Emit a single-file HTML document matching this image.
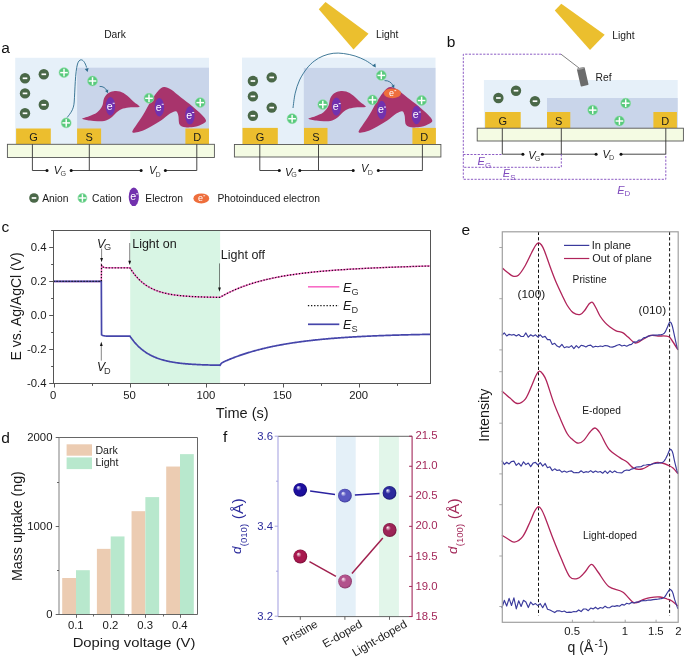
<!DOCTYPE html>
<html><head><meta charset="utf-8"><style>
html,body{margin:0;padding:0;background:#fff;}
svg{display:block;will-change:transform;}
text{font-family:"Liberation Sans",sans-serif;}
</style></head><body>
<svg width="685" height="658" viewBox="0 0 685 658" font-family="'Liberation Sans', sans-serif">
<rect width="685" height="658" fill="#fff"/>
<rect x="15.2" y="57.8" width="193.8" height="86.6" fill="#e6f0f9"/>
<rect x="77.1" y="67.7" width="131.9" height="76.7" fill="#c9d5ea"/>
<rect x="242" y="57.6" width="193.5" height="86.9" fill="#e6f0f9"/>
<rect x="303.8" y="67.9" width="131.7" height="76.6" fill="#c9d5ea"/>
<rect x="483.9" y="80" width="193.8" height="48.2" fill="#e6f0f9"/>
<rect x="547" y="98" width="130.7" height="30.2" fill="#c9d5ea"/>
<rect x="16.1" y="128.5" width="34.7" height="15.8" fill="#ecbe2e"/>
<text x="33.6" y="140.8" font-size="11" fill="#1a1a1a" text-anchor="middle" >G</text>
<rect x="77.1" y="128.5" width="24" height="15.8" fill="#ecbe2e"/>
<text x="89.2" y="140.8" font-size="11" fill="#1a1a1a" text-anchor="middle" >S</text>
<rect x="185.4" y="128.5" width="23.6" height="15.8" fill="#ecbe2e"/>
<text x="197.2" y="140.8" font-size="11" fill="#1a1a1a" text-anchor="middle" >D</text>
<rect x="242.5" y="127.9" width="35.3" height="16.6" fill="#ecbe2e"/>
<text x="260.1" y="140.8" font-size="11" fill="#1a1a1a" text-anchor="middle" >G</text>
<rect x="304" y="127.9" width="23.5" height="16.6" fill="#ecbe2e"/>
<text x="315.8" y="140.8" font-size="11" fill="#1a1a1a" text-anchor="middle" >S</text>
<rect x="412.4" y="127.9" width="23.5" height="16.6" fill="#ecbe2e"/>
<text x="424.2" y="140.8" font-size="11" fill="#1a1a1a" text-anchor="middle" >D</text>
<rect x="485.1" y="112" width="35.6" height="16.2" fill="#ecbe2e"/>
<text x="502.9" y="125" font-size="11" fill="#1a1a1a" text-anchor="middle" >G</text>
<rect x="547" y="112" width="23.3" height="16.2" fill="#ecbe2e"/>
<text x="558.7" y="125" font-size="11" fill="#1a1a1a" text-anchor="middle" >S</text>
<rect x="653.4" y="112" width="23.5" height="16.2" fill="#ecbe2e"/>
<text x="665.2" y="125" font-size="11" fill="#1a1a1a" text-anchor="middle" >D</text>
<rect x="7.4" y="144.3" width="207" height="13.2" fill="#f4fbe3" stroke="#555" stroke-width="0.9"/>
<rect x="234.4" y="144.5" width="206.5" height="12.5" fill="#f4fbe3" stroke="#555" stroke-width="0.9"/>
<rect x="477.2" y="128.2" width="206.2" height="12.8" fill="#f4fbe3" stroke="#555" stroke-width="0.9"/>
<path d="M32.4,144.3 V170.5 H47 M89.3,144.3 V170.5 M71.2,170.5 H141.1 M196.8,144.3 V170.5 H165.4" stroke="#333333" stroke-width="0.9" fill="none"/>
<circle cx="47" cy="170.5" r="1.5" fill="#111"/>
<circle cx="71.2" cy="170.5" r="1.5" fill="#111"/>
<circle cx="141.1" cy="170.5" r="1.5" fill="#111"/>
<circle cx="165.4" cy="170.5" r="1.5" fill="#111"/>
<text x="53.8" y="174" font-size="11" fill="#1a1a1a" font-style="italic">V</text>
<text x="60.4" y="175.8" font-size="7.2" fill="#444">G</text>
<text x="149.1" y="174.3" font-size="11" fill="#1a1a1a" font-style="italic">V</text>
<text x="155.5" y="176.6" font-size="7.2" fill="#444">D</text>
<path d="M259.8,144.5 V170.5 H279.3 M318.5,144.5 V170.5 M299.8,170.5 H353.2 M422.4,144.5 V170.5 H378.3" stroke="#333333" stroke-width="0.9" fill="none"/>
<circle cx="279.3" cy="170.5" r="1.5" fill="#111"/>
<circle cx="299.8" cy="170.5" r="1.5" fill="#111"/>
<circle cx="353.2" cy="170.5" r="1.5" fill="#111"/>
<circle cx="378.3" cy="170.5" r="1.5" fill="#111"/>
<text x="285" y="175.5" font-size="11" fill="#1a1a1a" font-style="italic">V</text>
<text x="291.2" y="177.4" font-size="7.2" fill="#444">G</text>
<text x="361.1" y="172.3" font-size="11" fill="#1a1a1a" font-style="italic">V</text>
<text x="367.7" y="174.6" font-size="7.2" fill="#444">D</text>
<path d="M502.3,128.2 V154.2 H522.9 M561.3,128.2 V154.2 M542.4,154.2 H596.1 M665.8,128.2 V154.2 H621" stroke="#333333" stroke-width="0.9" fill="none"/>
<circle cx="522.9" cy="154.2" r="1.5" fill="#111"/>
<circle cx="542.4" cy="154.2" r="1.5" fill="#111"/>
<circle cx="596.1" cy="154.2" r="1.5" fill="#111"/>
<circle cx="621" cy="154.2" r="1.5" fill="#111"/>
<text x="528.2" y="158.6" font-size="11" fill="#1a1a1a" font-style="italic">V</text>
<text x="534.8" y="160.6" font-size="7.2" fill="#444">G</text>
<text x="602.6" y="157.7" font-size="11" fill="#1a1a1a" font-style="italic">V</text>
<text x="608.9" y="160.1" font-size="7.2" fill="#444">D</text>
<path d="M82.2,118.8 C82.37,119.53 87.37,120.18 90,120.6 C92.63,121.02 95.33,121.33 98,121.3 C100.67,121.27 103.67,121.12 106,120.4 C108.33,119.68 110.17,118.4 112,117 C113.83,115.6 115.17,113.4 117,112 C118.83,110.6 120.67,109.4 123,108.6 C125.33,107.8 128.23,107.5 131,107.2 C133.77,106.9 139.1,107.67 139.6,106.8 C140.1,105.93 136.1,103.88 134,102 C131.9,100.12 129.33,97.23 127,95.5 C124.67,93.77 122.25,92.32 120,91.6 C117.75,90.88 115.55,90.87 113.5,91.2 C111.45,91.53 109.28,92.38 107.7,93.6 C106.12,94.82 104.92,96.43 104,98.5 C103.08,100.57 103.37,103.67 102.2,106 C101.03,108.33 99.2,110.8 97,112.5 C94.8,114.2 91.47,115.15 89,116.2 C86.53,117.25 82.03,118.07 82.2,118.8Z" fill="#a8346c"/>
<path d="M164,87 C161.92,87.17 160.67,88.17 158.5,90.5 C156.33,92.83 153.58,96.92 151,101 C148.42,105.08 145.5,110.92 143,115 C140.5,119.08 137.77,122.63 136,125.5 C134.23,128.37 131.73,131.18 132.4,132.2 C133.07,133.22 136.9,132.55 140,131.6 C143.1,130.65 147.5,128.35 151,126.5 C154.5,124.65 157.83,122.67 161,120.5 C164.17,118.33 167.5,115.05 170,113.5 C172.5,111.95 174.62,110.87 176,111.2 C177.38,111.53 177.7,113.28 178.3,115.5 C178.9,117.72 178.42,122.53 179.6,124.5 C180.78,126.47 182.83,126.92 185.4,127.3 C187.97,127.68 192.07,127.38 195,126.8 C197.93,126.22 201.17,124.85 203,123.8 C204.83,122.75 206.25,122.05 206,120.5 C205.75,118.95 203.83,116.92 201.5,114.5 C199.17,112.08 195.42,108.83 192,106 C188.58,103.17 184.5,100.25 181,97.5 C177.5,94.75 173.83,91.25 171,89.5 C168.17,87.75 166.08,86.83 164,87Z" fill="#a8346c"/>
<path d="M308.4,118.8 C308.57,119.53 313.57,120.18 316.2,120.6 C318.83,121.02 321.53,121.33 324.2,121.3 C326.87,121.27 329.87,121.12 332.2,120.4 C334.53,119.68 336.37,118.4 338.2,117 C340.03,115.6 341.37,113.4 343.2,112 C345.03,110.6 346.87,109.4 349.2,108.6 C351.53,107.8 354.43,107.5 357.2,107.2 C359.97,106.9 365.3,107.67 365.8,106.8 C366.3,105.93 362.3,103.88 360.2,102 C358.1,100.12 355.53,97.23 353.2,95.5 C350.87,93.77 348.45,92.32 346.2,91.6 C343.95,90.88 341.75,90.87 339.7,91.2 C337.65,91.53 335.48,92.38 333.9,93.6 C332.32,94.82 331.12,96.43 330.2,98.5 C329.28,100.57 329.57,103.67 328.4,106 C327.23,108.33 325.4,110.8 323.2,112.5 C321,114.2 317.67,115.15 315.2,116.2 C312.73,117.25 308.23,118.07 308.4,118.8Z" fill="#a8346c"/>
<path d="M390.3,87 C388.22,87.17 386.97,88.17 384.8,90.5 C382.63,92.83 379.88,96.92 377.3,101 C374.72,105.08 371.8,110.92 369.3,115 C366.8,119.08 364.07,122.63 362.3,125.5 C360.53,128.37 358.03,131.18 358.7,132.2 C359.37,133.22 363.2,132.55 366.3,131.6 C369.4,130.65 373.8,128.35 377.3,126.5 C380.8,124.65 384.13,122.67 387.3,120.5 C390.47,118.33 393.8,115.05 396.3,113.5 C398.8,111.95 400.92,110.87 402.3,111.2 C403.68,111.53 404,113.28 404.6,115.5 C405.2,117.72 404.72,122.53 405.9,124.5 C407.08,126.47 409.13,126.92 411.7,127.3 C414.27,127.68 418.37,127.38 421.3,126.8 C424.23,126.22 427.47,124.85 429.3,123.8 C431.13,122.75 432.55,122.05 432.3,120.5 C432.05,118.95 430.13,116.92 427.8,114.5 C425.47,112.08 421.72,108.83 418.3,106 C414.88,103.17 410.8,100.25 407.3,97.5 C403.8,94.75 400.13,91.25 397.3,89.5 C394.47,87.75 392.38,86.83 390.3,87Z" fill="#a8346c"/>
<circle cx="25" cy="78.3" r="5.2" fill="#4a6848"/>
<rect x="22.7" y="77.45" width="4.6" height="1.7" fill="#fff"/>
<circle cx="43.8" cy="74.3" r="5.2" fill="#4a6848"/>
<rect x="41.5" y="73.45" width="4.6" height="1.7" fill="#fff"/>
<circle cx="25" cy="93.4" r="5.2" fill="#4a6848"/>
<rect x="22.7" y="92.55" width="4.6" height="1.7" fill="#fff"/>
<circle cx="43.8" cy="104.8" r="5.2" fill="#4a6848"/>
<rect x="41.5" y="103.95" width="4.6" height="1.7" fill="#fff"/>
<circle cx="25" cy="113.3" r="5.2" fill="#4a6848"/>
<rect x="22.7" y="112.45" width="4.6" height="1.7" fill="#fff"/>
<circle cx="64" cy="72.6" r="4.95" fill="#58c97c" stroke="#8fdfa8" stroke-width="0.6"/>
<rect x="60.2" y="71.88" width="7.6" height="1.45" fill="#fff"/>
<rect x="63.28" y="68.8" width="1.45" height="7.6" fill="#fff"/>
<circle cx="92.5" cy="81" r="4.95" fill="#58c97c" stroke="#8fdfa8" stroke-width="0.6"/>
<rect x="88.7" y="80.28" width="7.6" height="1.45" fill="#fff"/>
<rect x="91.78" y="77.2" width="1.45" height="7.6" fill="#fff"/>
<circle cx="66.2" cy="122.9" r="4.95" fill="#58c97c" stroke="#8fdfa8" stroke-width="0.6"/>
<rect x="62.4" y="122.18" width="7.6" height="1.45" fill="#fff"/>
<rect x="65.48" y="119.1" width="1.45" height="7.6" fill="#fff"/>
<circle cx="149" cy="98.3" r="4.95" fill="#58c97c" stroke="#8fdfa8" stroke-width="0.6"/>
<rect x="145.2" y="97.58" width="7.6" height="1.45" fill="#fff"/>
<rect x="148.28" y="94.5" width="1.45" height="7.6" fill="#fff"/>
<circle cx="200.2" cy="102.6" r="4.95" fill="#58c97c" stroke="#8fdfa8" stroke-width="0.6"/>
<rect x="196.4" y="101.88" width="7.6" height="1.45" fill="#fff"/>
<rect x="199.48" y="98.8" width="1.45" height="7.6" fill="#fff"/>
<ellipse cx="110.4" cy="106.2" rx="4.7" ry="9.2" fill="#7231ae"/>
<text x="109.7" y="109.6" font-size="10.6" fill="#fff" text-anchor="middle">e</text>
<rect x="112.7" y="102.8" width="2" height="0.9" fill="#fff"/>
<ellipse cx="159.4" cy="107.2" rx="4.7" ry="9.2" fill="#7231ae"/>
<text x="158.7" y="110.6" font-size="10.6" fill="#fff" text-anchor="middle">e</text>
<rect x="161.7" y="103.8" width="2" height="0.9" fill="#fff"/>
<ellipse cx="189.9" cy="115.4" rx="4.7" ry="9.2" fill="#7231ae"/>
<text x="189.2" y="118.8" font-size="10.6" fill="#fff" text-anchor="middle">e</text>
<rect x="192.2" y="112" width="2" height="0.9" fill="#fff"/>
<circle cx="252.9" cy="81" r="5.2" fill="#4a6848"/>
<rect x="250.6" y="80.15" width="4.6" height="1.7" fill="#fff"/>
<circle cx="271.7" cy="77.4" r="5.2" fill="#4a6848"/>
<rect x="269.4" y="76.55" width="4.6" height="1.7" fill="#fff"/>
<circle cx="252.9" cy="96.4" r="5.2" fill="#4a6848"/>
<rect x="250.6" y="95.55" width="4.6" height="1.7" fill="#fff"/>
<circle cx="271.7" cy="107.6" r="5.2" fill="#4a6848"/>
<rect x="269.4" y="106.75" width="4.6" height="1.7" fill="#fff"/>
<circle cx="252.9" cy="115.8" r="5.2" fill="#4a6848"/>
<rect x="250.6" y="114.95" width="4.6" height="1.7" fill="#fff"/>
<circle cx="292.1" cy="118.7" r="4.95" fill="#58c97c" stroke="#8fdfa8" stroke-width="0.6"/>
<rect x="288.3" y="117.98" width="7.6" height="1.45" fill="#fff"/>
<rect x="291.38" y="114.9" width="1.45" height="7.6" fill="#fff"/>
<circle cx="322.8" cy="104.6" r="4.95" fill="#58c97c" stroke="#8fdfa8" stroke-width="0.6"/>
<rect x="319" y="103.88" width="7.6" height="1.45" fill="#fff"/>
<rect x="322.08" y="100.8" width="1.45" height="7.6" fill="#fff"/>
<circle cx="372.5" cy="99.9" r="4.95" fill="#58c97c" stroke="#8fdfa8" stroke-width="0.6"/>
<rect x="368.7" y="99.18" width="7.6" height="1.45" fill="#fff"/>
<rect x="371.78" y="96.1" width="1.45" height="7.6" fill="#fff"/>
<circle cx="381.3" cy="75.4" r="4.95" fill="#58c97c" stroke="#8fdfa8" stroke-width="0.6"/>
<rect x="377.5" y="74.68" width="7.6" height="1.45" fill="#fff"/>
<rect x="380.58" y="71.6" width="1.45" height="7.6" fill="#fff"/>
<circle cx="421.6" cy="100.5" r="4.95" fill="#58c97c" stroke="#8fdfa8" stroke-width="0.6"/>
<rect x="417.8" y="99.78" width="7.6" height="1.45" fill="#fff"/>
<rect x="420.88" y="96.7" width="1.45" height="7.6" fill="#fff"/>
<ellipse cx="336.4" cy="106.6" rx="4.7" ry="9.2" fill="#7231ae"/>
<text x="335.7" y="110" font-size="10.6" fill="#fff" text-anchor="middle">e</text>
<rect x="338.7" y="103.2" width="2" height="0.9" fill="#fff"/>
<ellipse cx="381.7" cy="110" rx="4.7" ry="9.2" fill="#7231ae"/>
<text x="381" y="113.4" font-size="10.6" fill="#fff" text-anchor="middle">e</text>
<rect x="384" y="106.6" width="2" height="0.9" fill="#fff"/>
<ellipse cx="416.5" cy="115" rx="4.7" ry="9.2" fill="#7231ae"/>
<text x="415.8" y="118.4" font-size="10.6" fill="#fff" text-anchor="middle">e</text>
<rect x="418.8" y="111.6" width="2" height="0.9" fill="#fff"/>
<ellipse cx="392.4" cy="93.3" rx="8.6" ry="4.9" fill="#ee6e3c"/>
<text x="391.6" y="96.1" font-size="9" fill="#fff" text-anchor="middle">e</text>
<rect x="394.4" y="90.3" width="1.8" height="0.8" fill="#fff"/>
<circle cx="498.4" cy="98" r="5.2" fill="#4a6848"/>
<rect x="496.1" y="97.15" width="4.6" height="1.7" fill="#fff"/>
<circle cx="516" cy="90.7" r="5.2" fill="#4a6848"/>
<rect x="513.7" y="89.85" width="4.6" height="1.7" fill="#fff"/>
<circle cx="535" cy="101.2" r="5.2" fill="#4a6848"/>
<rect x="532.7" y="100.35" width="4.6" height="1.7" fill="#fff"/>
<circle cx="592.7" cy="110.1" r="4.95" fill="#58c97c" stroke="#8fdfa8" stroke-width="0.6"/>
<rect x="588.9" y="109.38" width="7.6" height="1.45" fill="#fff"/>
<rect x="591.98" y="106.3" width="1.45" height="7.6" fill="#fff"/>
<circle cx="625.7" cy="103.2" r="4.95" fill="#58c97c" stroke="#8fdfa8" stroke-width="0.6"/>
<rect x="621.9" y="102.48" width="7.6" height="1.45" fill="#fff"/>
<rect x="624.98" y="99.4" width="1.45" height="7.6" fill="#fff"/>
<circle cx="619.4" cy="121" r="4.95" fill="#58c97c" stroke="#8fdfa8" stroke-width="0.6"/>
<rect x="615.6" y="120.28" width="7.6" height="1.45" fill="#fff"/>
<rect x="618.68" y="117.2" width="1.45" height="7.6" fill="#fff"/>
<path d="M67.2,117.5 C70.5,113 73.6,110 74.2,102 C75,90 75.2,72 77.5,64 C79.5,57.5 84,58.5 86.6,67.5" stroke="#2c6b8c" stroke-width="0.9" fill="none"/>
<path d="M87.6,72 L84.76,69.04 L88.58,68.01 Z" fill="#2c6b8c"/>
<path d="M99.6,86.4 C103,86.2 105.5,88 107,90.8" stroke="#2c6b8c" stroke-width="0.9" fill="none"/>
<path d="M108,93.2 L105.05,91.04 L108.24,89.56 Z" fill="#2c6b8c"/>
<path d="M293,108 C293.37,105.53 294.1,97.87 295.2,93.2 C296.3,88.53 297.65,84.13 299.6,80 C301.55,75.87 304.47,71.55 306.9,68.4 C309.33,65.25 311.52,63.17 314.2,61.1 C316.88,59.03 319.83,57.3 323,56 C326.17,54.7 329.8,53.72 333.2,53.3 C336.6,52.88 339.75,53.05 343.4,53.5 C347.05,53.95 351.45,54.87 355.1,56 C358.75,57.13 362.35,58.77 365.3,60.3 C368.25,61.83 371.55,64.38 372.8,65.2" stroke="#2c6b8c" stroke-width="0.9" fill="none"/>
<path d="M375.8,67.6 L372.11,65.79 L375.36,63.52 Z" fill="#2c6b8c"/>
<path d="M384.6,80.6 C388.5,80.4 391.5,82.5 393,85.5" stroke="#2c6b8c" stroke-width="0.9" fill="none"/>
<path d="M394.2,88.2 L391.25,86.04 L394.44,84.56 Z" fill="#2c6b8c"/>
<path d="M325.5,2 L318.8,9.2 L353.5,49.5 L368.5,33.7 Z" fill="#ebbf2e"/>
<path d="M561.3,3.7 L554.8,10.6 L590,50.1 L604.7,34.7 Z" fill="#ebbf2e"/>
<path d="M561,54.2 H463.3 V179.3 H665.8 V154.2" stroke="#7f4abd" stroke-width="0.9" stroke-dasharray="2.2,1.4" fill="none"/>
<path d="M463.3,154.5 H502.3" stroke="#7f4abd" stroke-width="0.9" stroke-dasharray="2.2,1.4" fill="none"/>
<path d="M561.3,154.2 V167.3 H463.3" stroke="#7f4abd" stroke-width="0.9" stroke-dasharray="2.2,1.4" fill="none"/>
<path d="M561,54.2 L579,68" stroke="#555" stroke-width="0.75"/>
<g transform="translate(582.7,76.9) rotate(-13)"><rect x="-4" y="-9" width="8" height="18" rx="0.8" fill="#6b6b6b"/><ellipse cx="0" cy="-8.6" rx="4" ry="1.1" fill="#9c9c9c"/></g>
<text x="477.6" y="165.2" font-size="11" fill="#7f4abd" font-style="italic">E<tspan font-size="7.92" font-style="normal" dy="2.4">G</tspan></text>
<text x="502.8" y="177.3" font-size="11" fill="#7f4abd" font-style="italic">E<tspan font-size="7.92" font-style="normal" dy="2.4">S</tspan></text>
<text x="617.2" y="193.5" font-size="11" fill="#7f4abd" font-style="italic">E<tspan font-size="7.92" font-style="normal" dy="2.4">D</tspan></text>
<text x="1.2" y="53.2" font-size="15.5" fill="#111" text-anchor="start" >a</text>
<text x="446.8" y="47" font-size="15.5" fill="#111" text-anchor="start" >b</text>
<text x="104.2" y="38" font-size="10.3" fill="#1a1a1a" text-anchor="start" >Dark</text>
<text x="376" y="37.6" font-size="10.3" fill="#1a1a1a" text-anchor="start" >Light</text>
<text x="612.3" y="39.4" font-size="10.3" fill="#1a1a1a" text-anchor="start" >Light</text>
<text x="595.6" y="80.6" font-size="10.3" fill="#1a1a1a" text-anchor="start" >Ref</text>
<circle cx="34" cy="198" r="4.8" fill="#4a6848"/>
<rect x="31.7" y="197.15" width="4.6" height="1.7" fill="#fff"/>
<text x="42.2" y="202.3" font-size="10.3" fill="#1a1a1a" text-anchor="start" >Anion</text>
<circle cx="82.4" cy="198" r="4.5" fill="#58c97c" stroke="#8fdfa8" stroke-width="0.6"/>
<rect x="78.6" y="197.28" width="7.6" height="1.45" fill="#fff"/>
<rect x="81.68" y="194.2" width="1.45" height="7.6" fill="#fff"/>
<text x="92" y="202.3" font-size="10.3" fill="#1a1a1a" text-anchor="start" >Cation</text>
<ellipse cx="133.8" cy="196.8" rx="5.1" ry="9.3" fill="#7231ae"/>
<text x="133.1" y="200.2" font-size="10.6" fill="#fff" text-anchor="middle">e</text>
<rect x="136.1" y="193.4" width="2" height="0.9" fill="#fff"/>
<text x="145.3" y="202.3" font-size="10.3" fill="#1a1a1a" text-anchor="start" >Electron</text>
<ellipse cx="201.3" cy="198.4" rx="7.9" ry="5" fill="#ee6e3c"/>
<text x="200.5" y="201.2" font-size="9" fill="#fff" text-anchor="middle">e</text>
<rect x="203.3" y="195.4" width="1.8" height="0.8" fill="#fff"/>
<text x="217.4" y="202.3" font-size="10.3" fill="#1a1a1a" text-anchor="start" >Photoinduced electron</text>
<rect x="130.21" y="230.5" width="89.92" height="153" fill="#d8f5e4"/>
<path d="M53.5,281.4 L54.26,281.4 L55.03,281.4 L55.79,281.4 L56.56,281.4 L57.32,281.4 L58.08,281.4 L58.85,281.4 L59.61,281.4 L60.38,281.4 L61.14,281.4 L61.9,281.4 L62.67,281.4 L63.43,281.4 L64.2,281.4 L64.96,281.4 L65.72,281.4 L66.49,281.4 L67.25,281.4 L68.02,281.4 L68.78,281.4 L69.54,281.4 L70.31,281.4 L71.07,281.4 L71.84,281.4 L72.6,281.4 L73.36,281.4 L74.13,281.4 L74.89,281.4 L75.66,281.4 L76.42,281.4 L77.18,281.4 L77.95,281.4 L78.71,281.4 L79.48,281.4 L80.24,281.4 L81,281.4 L81.77,281.4 L82.53,281.4 L83.3,281.4 L84.06,281.4 L84.82,281.4 L85.59,281.4 L86.35,281.4 L87.12,281.4 L87.88,281.4 L88.64,281.4 L89.41,281.4 L90.17,281.4 L90.94,281.4 L91.7,281.4 L92.46,281.4 L93.23,281.4 L93.99,281.4 L94.76,281.4 L95.52,281.4 L96.28,281.4 L97.05,281.4 L97.81,281.4 L98.58,281.4 L99.34,281.4 L100.1,281.4 L100.87,281.4 L101.33,281.4 L101.56,265.25 L102.4,266.44 L103.16,267.07 L103.92,267.41 L104.69,267.59 L105.45,267.69 L106.22,267.74 L106.98,267.77 L107.74,267.78 L108.51,267.79 L109.27,267.8 L110.04,267.8 L110.8,267.8 L111.56,267.8 L112.33,267.8 L113.09,267.8 L113.86,267.8 L114.62,267.8 L115.38,267.8 L116.15,267.8 L116.91,267.8 L117.68,267.8 L118.44,267.8 L119.2,267.8 L119.97,267.8 L120.73,267.8 L121.5,267.8 L122.26,267.8 L123.02,267.8 L123.79,267.8 L124.55,267.8 L125.32,267.8 L126.08,267.8 L126.84,267.8 L127.61,267.8 L128.37,267.8 L129.14,267.8 L129.9,267.8 L130.66,269.01 L131.43,270.18 L132.19,271.3 L132.96,272.37 L133.72,273.39 L134.48,274.38 L135.25,275.33 L136.01,276.23 L136.78,277.1 L137.54,277.94 L138.3,278.74 L139.07,279.51 L139.83,280.24 L140.6,280.95 L141.36,281.63 L142.12,282.28 L142.89,282.9 L143.65,283.5 L144.42,284.07 L145.18,284.62 L145.94,285.15 L146.71,285.65 L147.47,286.14 L148.24,286.61 L149,287.05 L149.76,287.48 L150.53,287.89 L151.29,288.29 L152.06,288.66 L152.82,289.03 L153.58,289.37 L154.35,289.71 L155.11,290.03 L155.88,290.33 L156.64,290.63 L157.4,290.91 L158.17,291.18 L158.93,291.44 L159.7,291.69 L160.46,291.93 L161.22,292.16 L161.99,292.38 L162.75,292.59 L163.52,292.79 L164.28,292.99 L165.04,293.17 L165.81,293.35 L166.57,293.52 L167.34,293.69 L168.1,293.85 L168.86,294 L169.63,294.14 L170.39,294.28 L171.16,294.41 L171.92,294.54 L172.68,294.67 L173.45,294.78 L174.21,294.9 L174.98,295 L175.74,295.11 L176.5,295.21 L177.27,295.3 L178.03,295.39 L178.8,295.48 L179.56,295.57 L180.32,295.65 L181.09,295.73 L181.85,295.8 L182.62,295.87 L183.38,295.94 L184.14,296.01 L184.91,296.07 L185.67,296.13 L186.44,296.19 L187.2,296.24 L187.96,296.3 L188.73,296.35 L189.49,296.4 L190.26,296.44 L191.02,296.49 L191.78,296.53 L192.55,296.57 L193.31,296.61 L194.08,296.65 L194.84,296.69 L195.6,296.72 L196.37,296.76 L197.13,296.79 L197.9,296.82 L198.66,296.85 L199.42,296.88 L200.19,296.91 L200.95,296.93 L201.72,296.96 L202.48,296.98 L203.24,297.01 L204.01,297.03 L204.77,297.05 L205.54,297.07 L206.3,297.09 L207.06,297.11 L207.83,297.13 L208.59,297.14 L209.36,297.16 L210.12,297.18 L210.88,297.19 L211.65,297.21 L212.41,297.22 L213.18,297.23 L213.94,297.25 L214.7,297.26 L215.47,297.27 L216.23,297.28 L217,297.29 L217.76,297.3 L218.52,297.31 L219.29,297.32 L220.05,297.29 L220.82,296.85 L221.58,296.42 L222.34,295.99 L223.11,295.56 L223.87,295.15 L224.64,294.73 L225.4,294.33 L226.16,293.93 L226.93,293.54 L227.69,293.15 L228.46,292.77 L229.22,292.4 L229.98,292.03 L230.75,291.66 L231.51,291.31 L232.28,290.95 L233.04,290.61 L233.8,290.26 L234.57,289.93 L235.33,289.59 L236.1,289.27 L236.86,288.95 L237.62,288.63 L238.39,288.32 L239.15,288.01 L239.92,287.7 L240.68,287.4 L241.44,287.11 L242.21,286.82 L242.97,286.53 L243.74,286.25 L244.5,285.98 L245.26,285.7 L246.03,285.43 L246.79,285.17 L247.56,284.91 L248.32,284.65 L249.08,284.39 L249.85,284.14 L250.61,283.9 L251.38,283.66 L252.14,283.42 L252.9,283.18 L253.67,282.95 L254.43,282.72 L255.2,282.49 L255.96,282.27 L256.72,282.05 L257.49,281.84 L258.25,281.62 L259.02,281.42 L259.78,281.21 L260.54,281.01 L261.31,280.8 L262.07,280.61 L262.84,280.41 L263.6,280.22 L264.36,280.03 L265.13,279.84 L265.89,279.66 L266.66,279.48 L267.42,279.3 L268.18,279.12 L268.95,278.95 L269.71,278.78 L270.48,278.61 L271.24,278.44 L272,278.28 L272.77,278.12 L273.53,277.96 L274.3,277.8 L275.06,277.65 L275.82,277.5 L276.59,277.34 L277.35,277.2 L278.12,277.05 L278.88,276.91 L279.64,276.76 L280.41,276.62 L281.17,276.48 L281.94,276.35 L282.7,276.21 L283.46,276.08 L284.23,275.95 L284.99,275.82 L285.76,275.69 L286.52,275.57 L287.28,275.44 L288.05,275.32 L288.81,275.2 L289.58,275.08 L290.34,274.96 L291.1,274.85 L291.87,274.73 L292.63,274.62 L293.4,274.51 L294.16,274.4 L294.92,274.29 L295.69,274.19 L296.45,274.08 L297.22,273.98 L297.98,273.87 L298.74,273.77 L299.51,273.67 L300.27,273.58 L301.04,273.48 L301.8,273.38 L302.56,273.29 L303.33,273.19 L304.09,273.1 L304.86,273.01 L305.62,272.92 L306.38,272.83 L307.15,272.74 L307.91,272.66 L308.68,272.57 L309.44,272.49 L310.2,272.4 L310.97,272.32 L311.73,272.24 L312.5,272.16 L313.26,272.08 L314.02,272 L314.79,271.93 L315.55,271.85 L316.32,271.77 L317.08,271.7 L317.84,271.63 L318.61,271.55 L319.37,271.48 L320.14,271.41 L320.9,271.34 L321.66,271.27 L322.43,271.2 L323.19,271.14 L323.96,271.07 L324.72,271 L325.48,270.94 L326.25,270.87 L327.01,270.81 L327.78,270.75 L328.54,270.69 L329.3,270.62 L330.07,270.56 L330.83,270.5 L331.6,270.44 L332.36,270.38 L333.12,270.33 L333.89,270.27 L334.65,270.21 L335.42,270.16 L336.18,270.1 L336.94,270.05 L337.71,269.99 L338.47,269.94 L339.24,269.88 L340,269.83 L340.76,269.78 L341.53,269.73 L342.29,269.68 L343.06,269.63 L343.82,269.58 L344.58,269.53 L345.35,269.48 L346.11,269.43 L346.88,269.38 L347.64,269.34 L348.4,269.29 L349.17,269.24 L349.93,269.2 L350.7,269.15 L351.46,269.11 L352.22,269.06 L352.99,269.02 L353.75,268.97 L354.52,268.93 L355.28,268.89 L356.04,268.85 L356.81,268.8 L357.57,268.76 L358.34,268.72 L359.1,268.68 L359.86,268.64 L360.63,268.6 L361.39,268.56 L362.16,268.52 L362.92,268.48 L363.68,268.44 L364.45,268.41 L365.21,268.37 L365.98,268.33 L366.74,268.29 L367.5,268.26 L368.27,268.22 L369.03,268.18 L369.8,268.15 L370.56,268.11 L371.32,268.08 L372.09,268.04 L372.85,268.01 L373.62,267.97 L374.38,267.94 L375.14,267.9 L375.91,267.87 L376.67,267.84 L377.44,267.8 L378.2,267.77 L378.96,267.74 L379.73,267.7 L380.49,267.67 L381.26,267.64 L382.02,267.61 L382.78,267.58 L383.55,267.55 L384.31,267.52 L385.08,267.48 L385.84,267.45 L386.6,267.42 L387.37,267.39 L388.13,267.36 L388.9,267.33 L389.66,267.3 L390.42,267.28 L391.19,267.25 L391.95,267.22 L392.72,267.19 L393.48,267.16 L394.24,267.13 L395.01,267.1 L395.77,267.08 L396.54,267.05 L397.3,267.02 L398.06,266.99 L398.83,266.97 L399.59,266.94 L400.36,266.91 L401.12,266.88 L401.88,266.86 L402.65,266.83 L403.41,266.81 L404.18,266.78 L404.94,266.75 L405.7,266.73 L406.47,266.7 L407.23,266.68 L408,266.65 L408.76,266.63 L409.52,266.6 L410.29,266.58 L411.05,266.55 L411.82,266.53 L412.58,266.5 L413.34,266.48 L414.11,266.45 L414.87,266.43 L415.64,266.4 L416.4,266.38 L417.16,266.36 L417.93,266.33 L418.69,266.31 L419.46,266.28 L420.22,266.26 L420.98,266.24 L421.75,266.21 L422.51,266.19 L423.28,266.17 L424.04,266.15 L424.8,266.12 L425.57,266.1 L426.33,266.08 L427.1,266.05 L427.86,266.03 L428.62,266.01 L429.39,265.99 L430.15,265.97" stroke="#f86cc6" stroke-width="1.5" fill="none"/>
<path d="M53.5,281.4 L54.26,281.4 L55.03,281.4 L55.79,281.4 L56.56,281.4 L57.32,281.4 L58.08,281.4 L58.85,281.4 L59.61,281.4 L60.38,281.4 L61.14,281.4 L61.9,281.4 L62.67,281.4 L63.43,281.4 L64.2,281.4 L64.96,281.4 L65.72,281.4 L66.49,281.4 L67.25,281.4 L68.02,281.4 L68.78,281.4 L69.54,281.4 L70.31,281.4 L71.07,281.4 L71.84,281.4 L72.6,281.4 L73.36,281.4 L74.13,281.4 L74.89,281.4 L75.66,281.4 L76.42,281.4 L77.18,281.4 L77.95,281.4 L78.71,281.4 L79.48,281.4 L80.24,281.4 L81,281.4 L81.77,281.4 L82.53,281.4 L83.3,281.4 L84.06,281.4 L84.82,281.4 L85.59,281.4 L86.35,281.4 L87.12,281.4 L87.88,281.4 L88.64,281.4 L89.41,281.4 L90.17,281.4 L90.94,281.4 L91.7,281.4 L92.46,281.4 L93.23,281.4 L93.99,281.4 L94.76,281.4 L95.52,281.4 L96.28,281.4 L97.05,281.4 L97.81,281.4 L98.58,281.4 L99.34,281.4 L100.1,281.4 L100.87,281.4 L101.33,281.4 L101.56,334.85 L102.4,335.29 L103.16,335.58 L103.92,335.77 L104.69,335.9 L105.45,335.98 L106.22,336.03 L106.98,336.07 L107.74,336.09 L108.51,336.11 L109.27,336.12 L110.04,336.13 L110.8,336.13 L111.56,336.13 L112.33,336.14 L113.09,336.14 L113.86,336.14 L114.62,336.14 L115.38,336.14 L116.15,336.14 L116.91,336.14 L117.68,336.14 L118.44,336.14 L119.2,336.14 L119.97,336.14 L120.73,336.14 L121.5,336.14 L122.26,336.14 L123.02,336.14 L123.79,336.14 L124.55,336.14 L125.32,336.14 L126.08,336.14 L126.84,336.14 L127.61,336.14 L128.37,336.14 L129.14,336.14 L129.9,336.14 L130.66,337.25 L131.43,338.32 L132.19,339.35 L132.96,340.33 L133.72,341.29 L134.48,342.2 L135.25,343.08 L136.01,343.93 L136.78,344.75 L137.54,345.53 L138.3,346.29 L139.07,347.01 L139.83,347.71 L140.6,348.38 L141.36,349.03 L142.12,349.66 L142.89,350.26 L143.65,350.83 L144.42,351.39 L145.18,351.92 L145.94,352.44 L146.71,352.93 L147.47,353.41 L148.24,353.87 L149,354.31 L149.76,354.73 L150.53,355.14 L151.29,355.53 L152.06,355.91 L152.82,356.27 L153.58,356.62 L154.35,356.96 L155.11,357.28 L155.88,357.6 L156.64,357.9 L157.4,358.19 L158.17,358.46 L158.93,358.73 L159.7,358.99 L160.46,359.24 L161.22,359.47 L161.99,359.7 L162.75,359.92 L163.52,360.14 L164.28,360.34 L165.04,360.54 L165.81,360.73 L166.57,360.91 L167.34,361.08 L168.1,361.25 L168.86,361.41 L169.63,361.57 L170.39,361.72 L171.16,361.86 L171.92,362 L172.68,362.14 L173.45,362.27 L174.21,362.39 L174.98,362.51 L175.74,362.62 L176.5,362.73 L177.27,362.84 L178.03,362.94 L178.8,363.04 L179.56,363.14 L180.32,363.23 L181.09,363.31 L181.85,363.4 L182.62,363.48 L183.38,363.56 L184.14,363.63 L184.91,363.71 L185.67,363.78 L186.44,363.84 L187.2,363.91 L187.96,363.97 L188.73,364.03 L189.49,364.09 L190.26,364.14 L191.02,364.19 L191.78,364.25 L192.55,364.29 L193.31,364.34 L194.08,364.39 L194.84,364.43 L195.6,364.47 L196.37,364.51 L197.13,364.55 L197.9,364.59 L198.66,364.63 L199.42,364.66 L200.19,364.7 L200.95,364.73 L201.72,364.76 L202.48,364.79 L203.24,364.82 L204.01,364.84 L204.77,364.87 L205.54,364.9 L206.3,364.92 L207.06,364.95 L207.83,364.97 L208.59,364.99 L209.36,365.01 L210.12,365.03 L210.88,365.05 L211.65,365.07 L212.41,365.09 L213.18,365.11 L213.94,365.12 L214.7,365.14 L215.47,365.15 L216.23,365.17 L217,365.18 L217.76,365.2 L218.52,365.21 L219.29,365.22 L220.05,365.38 L220.82,363.98 L221.58,363.17 L222.34,362.62 L223.11,362.19 L223.87,361.8 L224.64,361.45 L225.4,361.1 L226.16,360.77 L226.93,360.44 L227.69,360.11 L228.46,359.79 L229.22,359.47 L229.98,359.16 L230.75,358.85 L231.51,358.54 L232.28,358.24 L233.04,357.94 L233.8,357.64 L234.57,357.35 L235.33,357.06 L236.1,356.78 L236.86,356.5 L237.62,356.22 L238.39,355.94 L239.15,355.67 L239.92,355.4 L240.68,355.14 L241.44,354.88 L242.21,354.62 L242.97,354.36 L243.74,354.11 L244.5,353.86 L245.26,353.61 L246.03,353.37 L246.79,353.13 L247.56,352.89 L248.32,352.66 L249.08,352.42 L249.85,352.19 L250.61,351.97 L251.38,351.74 L252.14,351.52 L252.9,351.3 L253.67,351.09 L254.43,350.87 L255.2,350.66 L255.96,350.45 L256.72,350.25 L257.49,350.05 L258.25,349.84 L259.02,349.65 L259.78,349.45 L260.54,349.26 L261.31,349.06 L262.07,348.87 L262.84,348.69 L263.6,348.5 L264.36,348.32 L265.13,348.14 L265.89,347.96 L266.66,347.79 L267.42,347.61 L268.18,347.44 L268.95,347.27 L269.71,347.1 L270.48,346.94 L271.24,346.77 L272,346.61 L272.77,346.45 L273.53,346.29 L274.3,346.14 L275.06,345.98 L275.82,345.83 L276.59,345.68 L277.35,345.53 L278.12,345.38 L278.88,345.24 L279.64,345.09 L280.41,344.95 L281.17,344.81 L281.94,344.67 L282.7,344.54 L283.46,344.4 L284.23,344.27 L284.99,344.13 L285.76,344 L286.52,343.87 L287.28,343.75 L288.05,343.62 L288.81,343.5 L289.58,343.37 L290.34,343.25 L291.1,343.13 L291.87,343.01 L292.63,342.9 L293.4,342.78 L294.16,342.67 L294.92,342.55 L295.69,342.44 L296.45,342.33 L297.22,342.22 L297.98,342.12 L298.74,342.01 L299.51,341.91 L300.27,341.8 L301.04,341.7 L301.8,341.6 L302.56,341.5 L303.33,341.4 L304.09,341.3 L304.86,341.2 L305.62,341.11 L306.38,341.01 L307.15,340.92 L307.91,340.83 L308.68,340.74 L309.44,340.65 L310.2,340.56 L310.97,340.47 L311.73,340.38 L312.5,340.3 L313.26,340.21 L314.02,340.13 L314.79,340.05 L315.55,339.97 L316.32,339.89 L317.08,339.81 L317.84,339.73 L318.61,339.65 L319.37,339.57 L320.14,339.5 L320.9,339.42 L321.66,339.35 L322.43,339.27 L323.19,339.2 L323.96,339.13 L324.72,339.06 L325.48,338.99 L326.25,338.92 L327.01,338.85 L327.78,338.79 L328.54,338.72 L329.3,338.65 L330.07,338.59 L330.83,338.52 L331.6,338.46 L332.36,338.4 L333.12,338.34 L333.89,338.28 L334.65,338.21 L335.42,338.16 L336.18,338.1 L336.94,338.04 L337.71,337.98 L338.47,337.92 L339.24,337.87 L340,337.81 L340.76,337.76 L341.53,337.7 L342.29,337.65 L343.06,337.6 L343.82,337.54 L344.58,337.49 L345.35,337.44 L346.11,337.39 L346.88,337.34 L347.64,337.29 L348.4,337.24 L349.17,337.19 L349.93,337.15 L350.7,337.1 L351.46,337.05 L352.22,337.01 L352.99,336.96 L353.75,336.92 L354.52,336.87 L355.28,336.83 L356.04,336.79 L356.81,336.74 L357.57,336.7 L358.34,336.66 L359.1,336.62 L359.86,336.58 L360.63,336.54 L361.39,336.5 L362.16,336.46 L362.92,336.42 L363.68,336.38 L364.45,336.34 L365.21,336.31 L365.98,336.27 L366.74,336.23 L367.5,336.2 L368.27,336.16 L369.03,336.13 L369.8,336.09 L370.56,336.06 L371.32,336.02 L372.09,335.99 L372.85,335.96 L373.62,335.92 L374.38,335.89 L375.14,335.86 L375.91,335.83 L376.67,335.8 L377.44,335.77 L378.2,335.74 L378.96,335.71 L379.73,335.68 L380.49,335.65 L381.26,335.62 L382.02,335.59 L382.78,335.56 L383.55,335.53 L384.31,335.5 L385.08,335.48 L385.84,335.45 L386.6,335.42 L387.37,335.4 L388.13,335.37 L388.9,335.35 L389.66,335.32 L390.42,335.29 L391.19,335.27 L391.95,335.25 L392.72,335.22 L393.48,335.2 L394.24,335.17 L395.01,335.15 L395.77,335.13 L396.54,335.1 L397.3,335.08 L398.06,335.06 L398.83,335.04 L399.59,335.02 L400.36,334.99 L401.12,334.97 L401.88,334.95 L402.65,334.93 L403.41,334.91 L404.18,334.89 L404.94,334.87 L405.7,334.85 L406.47,334.83 L407.23,334.81 L408,334.79 L408.76,334.77 L409.52,334.76 L410.29,334.74 L411.05,334.72 L411.82,334.7 L412.58,334.68 L413.34,334.67 L414.11,334.65 L414.87,334.63 L415.64,334.61 L416.4,334.6 L417.16,334.58 L417.93,334.56 L418.69,334.55 L419.46,334.53 L420.22,334.52 L420.98,334.5 L421.75,334.49 L422.51,334.47 L423.28,334.46 L424.04,334.44 L424.8,334.43 L425.57,334.41 L426.33,334.4 L427.1,334.38 L427.86,334.37 L428.62,334.36 L429.39,334.34 L430.15,334.33" stroke="#4545aa" stroke-width="1.7" fill="none"/>
<path d="M53.5,281.4 L54.26,281.4 L55.03,281.4 L55.79,281.4 L56.56,281.4 L57.32,281.4 L58.08,281.4 L58.85,281.4 L59.61,281.4 L60.38,281.4 L61.14,281.4 L61.9,281.4 L62.67,281.4 L63.43,281.4 L64.2,281.4 L64.96,281.4 L65.72,281.4 L66.49,281.4 L67.25,281.4 L68.02,281.4 L68.78,281.4 L69.54,281.4 L70.31,281.4 L71.07,281.4 L71.84,281.4 L72.6,281.4 L73.36,281.4 L74.13,281.4 L74.89,281.4 L75.66,281.4 L76.42,281.4 L77.18,281.4 L77.95,281.4 L78.71,281.4 L79.48,281.4 L80.24,281.4 L81,281.4 L81.77,281.4 L82.53,281.4 L83.3,281.4 L84.06,281.4 L84.82,281.4 L85.59,281.4 L86.35,281.4 L87.12,281.4 L87.88,281.4 L88.64,281.4 L89.41,281.4 L90.17,281.4 L90.94,281.4 L91.7,281.4 L92.46,281.4 L93.23,281.4 L93.99,281.4 L94.76,281.4 L95.52,281.4 L96.28,281.4 L97.05,281.4 L97.81,281.4 L98.58,281.4 L99.34,281.4 L100.1,281.4 L100.87,281.4 L101.33,281.4 L101.56,265.25 L102.4,266.44 L103.16,267.07 L103.92,267.41 L104.69,267.59 L105.45,267.69 L106.22,267.74 L106.98,267.77 L107.74,267.78 L108.51,267.79 L109.27,267.8 L110.04,267.8 L110.8,267.8 L111.56,267.8 L112.33,267.8 L113.09,267.8 L113.86,267.8 L114.62,267.8 L115.38,267.8 L116.15,267.8 L116.91,267.8 L117.68,267.8 L118.44,267.8 L119.2,267.8 L119.97,267.8 L120.73,267.8 L121.5,267.8 L122.26,267.8 L123.02,267.8 L123.79,267.8 L124.55,267.8 L125.32,267.8 L126.08,267.8 L126.84,267.8 L127.61,267.8 L128.37,267.8 L129.14,267.8 L129.9,267.8 L130.66,269.01 L131.43,270.18 L132.19,271.3 L132.96,272.37 L133.72,273.39 L134.48,274.38 L135.25,275.33 L136.01,276.23 L136.78,277.1 L137.54,277.94 L138.3,278.74 L139.07,279.51 L139.83,280.24 L140.6,280.95 L141.36,281.63 L142.12,282.28 L142.89,282.9 L143.65,283.5 L144.42,284.07 L145.18,284.62 L145.94,285.15 L146.71,285.65 L147.47,286.14 L148.24,286.61 L149,287.05 L149.76,287.48 L150.53,287.89 L151.29,288.29 L152.06,288.66 L152.82,289.03 L153.58,289.37 L154.35,289.71 L155.11,290.03 L155.88,290.33 L156.64,290.63 L157.4,290.91 L158.17,291.18 L158.93,291.44 L159.7,291.69 L160.46,291.93 L161.22,292.16 L161.99,292.38 L162.75,292.59 L163.52,292.79 L164.28,292.99 L165.04,293.17 L165.81,293.35 L166.57,293.52 L167.34,293.69 L168.1,293.85 L168.86,294 L169.63,294.14 L170.39,294.28 L171.16,294.41 L171.92,294.54 L172.68,294.67 L173.45,294.78 L174.21,294.9 L174.98,295 L175.74,295.11 L176.5,295.21 L177.27,295.3 L178.03,295.39 L178.8,295.48 L179.56,295.57 L180.32,295.65 L181.09,295.73 L181.85,295.8 L182.62,295.87 L183.38,295.94 L184.14,296.01 L184.91,296.07 L185.67,296.13 L186.44,296.19 L187.2,296.24 L187.96,296.3 L188.73,296.35 L189.49,296.4 L190.26,296.44 L191.02,296.49 L191.78,296.53 L192.55,296.57 L193.31,296.61 L194.08,296.65 L194.84,296.69 L195.6,296.72 L196.37,296.76 L197.13,296.79 L197.9,296.82 L198.66,296.85 L199.42,296.88 L200.19,296.91 L200.95,296.93 L201.72,296.96 L202.48,296.98 L203.24,297.01 L204.01,297.03 L204.77,297.05 L205.54,297.07 L206.3,297.09 L207.06,297.11 L207.83,297.13 L208.59,297.14 L209.36,297.16 L210.12,297.18 L210.88,297.19 L211.65,297.21 L212.41,297.22 L213.18,297.23 L213.94,297.25 L214.7,297.26 L215.47,297.27 L216.23,297.28 L217,297.29 L217.76,297.3 L218.52,297.31 L219.29,297.32 L220.05,297.29 L220.82,296.85 L221.58,296.42 L222.34,295.99 L223.11,295.56 L223.87,295.15 L224.64,294.73 L225.4,294.33 L226.16,293.93 L226.93,293.54 L227.69,293.15 L228.46,292.77 L229.22,292.4 L229.98,292.03 L230.75,291.66 L231.51,291.31 L232.28,290.95 L233.04,290.61 L233.8,290.26 L234.57,289.93 L235.33,289.59 L236.1,289.27 L236.86,288.95 L237.62,288.63 L238.39,288.32 L239.15,288.01 L239.92,287.7 L240.68,287.4 L241.44,287.11 L242.21,286.82 L242.97,286.53 L243.74,286.25 L244.5,285.98 L245.26,285.7 L246.03,285.43 L246.79,285.17 L247.56,284.91 L248.32,284.65 L249.08,284.39 L249.85,284.14 L250.61,283.9 L251.38,283.66 L252.14,283.42 L252.9,283.18 L253.67,282.95 L254.43,282.72 L255.2,282.49 L255.96,282.27 L256.72,282.05 L257.49,281.84 L258.25,281.62 L259.02,281.42 L259.78,281.21 L260.54,281.01 L261.31,280.8 L262.07,280.61 L262.84,280.41 L263.6,280.22 L264.36,280.03 L265.13,279.84 L265.89,279.66 L266.66,279.48 L267.42,279.3 L268.18,279.12 L268.95,278.95 L269.71,278.78 L270.48,278.61 L271.24,278.44 L272,278.28 L272.77,278.12 L273.53,277.96 L274.3,277.8 L275.06,277.65 L275.82,277.5 L276.59,277.34 L277.35,277.2 L278.12,277.05 L278.88,276.91 L279.64,276.76 L280.41,276.62 L281.17,276.48 L281.94,276.35 L282.7,276.21 L283.46,276.08 L284.23,275.95 L284.99,275.82 L285.76,275.69 L286.52,275.57 L287.28,275.44 L288.05,275.32 L288.81,275.2 L289.58,275.08 L290.34,274.96 L291.1,274.85 L291.87,274.73 L292.63,274.62 L293.4,274.51 L294.16,274.4 L294.92,274.29 L295.69,274.19 L296.45,274.08 L297.22,273.98 L297.98,273.87 L298.74,273.77 L299.51,273.67 L300.27,273.58 L301.04,273.48 L301.8,273.38 L302.56,273.29 L303.33,273.19 L304.09,273.1 L304.86,273.01 L305.62,272.92 L306.38,272.83 L307.15,272.74 L307.91,272.66 L308.68,272.57 L309.44,272.49 L310.2,272.4 L310.97,272.32 L311.73,272.24 L312.5,272.16 L313.26,272.08 L314.02,272 L314.79,271.93 L315.55,271.85 L316.32,271.77 L317.08,271.7 L317.84,271.63 L318.61,271.55 L319.37,271.48 L320.14,271.41 L320.9,271.34 L321.66,271.27 L322.43,271.2 L323.19,271.14 L323.96,271.07 L324.72,271 L325.48,270.94 L326.25,270.87 L327.01,270.81 L327.78,270.75 L328.54,270.69 L329.3,270.62 L330.07,270.56 L330.83,270.5 L331.6,270.44 L332.36,270.38 L333.12,270.33 L333.89,270.27 L334.65,270.21 L335.42,270.16 L336.18,270.1 L336.94,270.05 L337.71,269.99 L338.47,269.94 L339.24,269.88 L340,269.83 L340.76,269.78 L341.53,269.73 L342.29,269.68 L343.06,269.63 L343.82,269.58 L344.58,269.53 L345.35,269.48 L346.11,269.43 L346.88,269.38 L347.64,269.34 L348.4,269.29 L349.17,269.24 L349.93,269.2 L350.7,269.15 L351.46,269.11 L352.22,269.06 L352.99,269.02 L353.75,268.97 L354.52,268.93 L355.28,268.89 L356.04,268.85 L356.81,268.8 L357.57,268.76 L358.34,268.72 L359.1,268.68 L359.86,268.64 L360.63,268.6 L361.39,268.56 L362.16,268.52 L362.92,268.48 L363.68,268.44 L364.45,268.41 L365.21,268.37 L365.98,268.33 L366.74,268.29 L367.5,268.26 L368.27,268.22 L369.03,268.18 L369.8,268.15 L370.56,268.11 L371.32,268.08 L372.09,268.04 L372.85,268.01 L373.62,267.97 L374.38,267.94 L375.14,267.9 L375.91,267.87 L376.67,267.84 L377.44,267.8 L378.2,267.77 L378.96,267.74 L379.73,267.7 L380.49,267.67 L381.26,267.64 L382.02,267.61 L382.78,267.58 L383.55,267.55 L384.31,267.52 L385.08,267.48 L385.84,267.45 L386.6,267.42 L387.37,267.39 L388.13,267.36 L388.9,267.33 L389.66,267.3 L390.42,267.28 L391.19,267.25 L391.95,267.22 L392.72,267.19 L393.48,267.16 L394.24,267.13 L395.01,267.1 L395.77,267.08 L396.54,267.05 L397.3,267.02 L398.06,266.99 L398.83,266.97 L399.59,266.94 L400.36,266.91 L401.12,266.88 L401.88,266.86 L402.65,266.83 L403.41,266.81 L404.18,266.78 L404.94,266.75 L405.7,266.73 L406.47,266.7 L407.23,266.68 L408,266.65 L408.76,266.63 L409.52,266.6 L410.29,266.58 L411.05,266.55 L411.82,266.53 L412.58,266.5 L413.34,266.48 L414.11,266.45 L414.87,266.43 L415.64,266.4 L416.4,266.38 L417.16,266.36 L417.93,266.33 L418.69,266.31 L419.46,266.28 L420.22,266.26 L420.98,266.24 L421.75,266.21 L422.51,266.19 L423.28,266.17 L424.04,266.15 L424.8,266.12 L425.57,266.1 L426.33,266.08 L427.1,266.05 L427.86,266.03 L428.62,266.01 L429.39,265.99 L430.15,265.97" stroke="#111" stroke-width="1.25" stroke-dasharray="1.2,1.8" fill="none"/>
<rect x="53.5" y="230.5" width="377" height="153" fill="none" stroke="#555" stroke-width="1"/>
<path d="M49.2,247.5 H53.5 M49.2,281.5 H53.5 M49.2,315.5 H53.5 M49.2,349.5 H53.5 M49.2,383.5 H53.5 M51.1,230.5 H53.5 M51.1,264.5 H53.5 M51.1,298.5 H53.5 M51.1,332.5 H53.5 M51.1,366.5 H53.5 M54.5,383.5 V387.5 M130.5,383.5 V387.5 M206.5,383.5 V387.5 M283.5,383.5 V387.5 M359.5,383.5 V387.5 M92.5,383.5 V385.9 M168.5,383.5 V385.9 M244.5,383.5 V385.9 M321.5,383.5 V385.9 M397.5,383.5 V385.9" stroke="#555" stroke-width="1"/>
<text x="46.5" y="250.9" font-size="10.6" fill="#1a1a1a" text-anchor="end" textLength="15.77" lengthAdjust="spacingAndGlyphs" >0.4</text>
<text x="46.5" y="284.9" font-size="10.6" fill="#1a1a1a" text-anchor="end" textLength="15.77" lengthAdjust="spacingAndGlyphs" >0.2</text>
<text x="46.5" y="318.9" font-size="10.6" fill="#1a1a1a" text-anchor="end" textLength="15.77" lengthAdjust="spacingAndGlyphs" >0.0</text>
<text x="46.5" y="352.9" font-size="10.6" fill="#1a1a1a" text-anchor="end" textLength="19.54" lengthAdjust="spacingAndGlyphs" >-0.2</text>
<text x="46.5" y="386.9" font-size="10.6" fill="#1a1a1a" text-anchor="end" textLength="19.54" lengthAdjust="spacingAndGlyphs" >-0.4</text>
<text x="53.1" y="398.8" font-size="10.6" fill="#1a1a1a" text-anchor="middle" textLength="6.31" lengthAdjust="spacingAndGlyphs" >0</text>
<text x="129.5" y="398.8" font-size="10.6" fill="#1a1a1a" text-anchor="middle" textLength="12.62" lengthAdjust="spacingAndGlyphs" >50</text>
<text x="205.9" y="398.8" font-size="10.6" fill="#1a1a1a" text-anchor="middle" textLength="18.92" lengthAdjust="spacingAndGlyphs" >100</text>
<text x="282.3" y="398.8" font-size="10.6" fill="#1a1a1a" text-anchor="middle" textLength="18.92" lengthAdjust="spacingAndGlyphs" >150</text>
<text x="358.7" y="398.8" font-size="10.6" fill="#1a1a1a" text-anchor="middle" textLength="18.92" lengthAdjust="spacingAndGlyphs" >200</text>
<text x="1.5" y="231.8" font-size="15.5" fill="#111" text-anchor="start" >c</text>
<text transform="translate(21.2,360.45) rotate(-90)" x="0" y="0" font-size="14" fill="#1a1a1a" textLength="108.21" lengthAdjust="spacingAndGlyphs" >E vs. Ag/AgCl (V)</text>
<text x="215.88" y="417.7" font-size="14.2" fill="#1a1a1a" textLength="52.82" lengthAdjust="spacingAndGlyphs" >Time (s)</text>
<path d="M101.6,248.6 V258.8" stroke="#333" stroke-width="0.6"/>
<path d="M101.6,262.3 L100.2,258.1 L103,258.1 Z" fill="#111"/>
<path d="M101.3,360.6 V345.3" stroke="#333" stroke-width="0.6"/>
<path d="M101.3,341.8 L99.9,346 L102.7,346 Z" fill="#111"/>
<path d="M129.7,243 V261.4" stroke="#333" stroke-width="0.6"/>
<path d="M129.7,264.9 L128.3,260.7 L131.1,260.7 Z" fill="#111"/>
<path d="M219.5,263.4 V288.3" stroke="#333" stroke-width="0.6"/>
<path d="M219.5,291.8 L218.1,287.6 L220.9,287.6 Z" fill="#111"/>
<text x="96.9" y="247.5" font-size="12.2" fill="#1a1a1a" font-style="italic">V</text>
<text x="104" y="250.1" font-size="9.2" fill="#333">G</text>
<text x="96.9" y="371.1" font-size="12.2" fill="#1a1a1a" font-style="italic">V</text>
<text x="104" y="373.7" font-size="9.2" fill="#333">D</text>
<text x="132.2" y="247.6" font-size="12.5" fill="#1a1a1a" text-anchor="start" >Light on</text>
<text x="220.8" y="259.3" font-size="12.5" fill="#1a1a1a" text-anchor="start" >Light off</text>
<path d="M308,286.8 H339.3" stroke="#f86cc6" stroke-width="1.6"/>
<path d="M307.9,305.6 H339" stroke="#111" stroke-width="1.3" stroke-dasharray="1.3,1.8"/>
<path d="M308,324.3 H339.3" stroke="#4545aa" stroke-width="1.7"/>
<text x="342.9" y="291.7" font-size="12.6" fill="#1a1a1a" font-style="italic">E</text>
<text x="351.6" y="294.5" font-size="9.2" fill="#333">G</text>
<text x="342.9" y="310.4" font-size="12.6" fill="#1a1a1a" font-style="italic">E</text>
<text x="351.6" y="313.2" font-size="9.2" fill="#333">D</text>
<text x="342.9" y="329.1" font-size="12.6" fill="#1a1a1a" font-style="italic">E</text>
<text x="351.6" y="331.9" font-size="9.2" fill="#333">S</text>
<rect x="62.2" y="578" width="13.8" height="36.5" fill="#ecccb2"/>
<rect x="76" y="570.2" width="13.8" height="44.3" fill="#b8e8cd"/>
<rect x="96.9" y="548.85" width="13.8" height="65.65" fill="#ecccb2"/>
<rect x="110.7" y="536.44" width="13.8" height="78.06" fill="#b8e8cd"/>
<rect x="131.55" y="511.19" width="13.8" height="103.31" fill="#ecccb2"/>
<rect x="145.35" y="497.11" width="13.8" height="117.39" fill="#b8e8cd"/>
<rect x="166.2" y="466.54" width="13.8" height="147.96" fill="#ecccb2"/>
<rect x="180" y="454.13" width="13.8" height="160.37" fill="#b8e8cd"/>
<path d="M59,437.5 H197.5 V614.5" stroke="#555" stroke-width="0.9" fill="none"/>
<path d="M59,437.5 V614.5" stroke="#8a8a8a" stroke-width="1.1" fill="none"/>
<path d="M59,614.5 H197.5" stroke="#555" stroke-width="0.9" fill="none"/>
<path d="M55.7,437.5 H59 M55.7,526.5 H59 M55.7,614.5 H59 M57,482.5 H59 M57,570.5 H59 M76.5,614.5 V617.8 M111.5,614.5 V617.8 M145.5,614.5 V617.8 M180.5,614.5 V617.8 M93.5,614.5 V616.5 M128.5,614.5 V616.5 M163.5,614.5 V616.5" stroke="#555" stroke-width="0.9"/>
<text x="52.5" y="440.9" font-size="10.6" fill="#1a1a1a" text-anchor="end" textLength="25.23" lengthAdjust="spacingAndGlyphs" >2000</text>
<text x="52.5" y="529.5" font-size="10.6" fill="#1a1a1a" text-anchor="end" textLength="25.23" lengthAdjust="spacingAndGlyphs" >1000</text>
<text x="52.5" y="618.1" font-size="10.6" fill="#1a1a1a" text-anchor="end" textLength="6.31" lengthAdjust="spacingAndGlyphs" >0</text>
<text x="75.8" y="629.1" font-size="10.6" fill="#1a1a1a" text-anchor="middle" textLength="15.77" lengthAdjust="spacingAndGlyphs" >0.1</text>
<text x="110.5" y="629.1" font-size="10.6" fill="#1a1a1a" text-anchor="middle" textLength="15.77" lengthAdjust="spacingAndGlyphs" >0.2</text>
<text x="145.15" y="629.1" font-size="10.6" fill="#1a1a1a" text-anchor="middle" textLength="15.77" lengthAdjust="spacingAndGlyphs" >0.3</text>
<text x="179.8" y="629.1" font-size="10.6" fill="#1a1a1a" text-anchor="middle" textLength="15.77" lengthAdjust="spacingAndGlyphs" >0.4</text>
<text x="1.3" y="442.6" font-size="15.5" fill="#111" text-anchor="start" >d</text>
<text transform="translate(22.4,581.07) rotate(-90)" x="0" y="0" font-size="14" fill="#1a1a1a" textLength="109.94" lengthAdjust="spacingAndGlyphs" >Mass uptake (ng)</text>
<text x="72.68" y="646.8" font-size="13.6" fill="#1a1a1a" textLength="122.74" lengthAdjust="spacingAndGlyphs" >Doping voltage (V)</text>
<rect x="66.6" y="444.3" width="25.4" height="11.4" fill="#ecccb2"/>
<rect x="66.6" y="457.4" width="25.4" height="11.7" fill="#b8e8cd"/>
<text x="95.4" y="454" font-size="10.6" fill="#1a1a1a" text-anchor="start" >Dark</text>
<text x="95.4" y="466.3" font-size="10.6" fill="#1a1a1a" text-anchor="start" >Light</text>
<rect x="336" y="436.3" width="19.7" height="180.3" fill="#e4f0f8"/>
<rect x="379" y="436.3" width="19.9" height="180.3" fill="#e2f6ea"/>
<defs><radialGradient id="gb1" cx="0.5" cy="0.5" r="0.5" fx="0.34" fy="0.3"><stop offset="0" stop-color="#ffffff"/><stop offset="0.08" stop-color="#c8c8ee"/><stop offset="0.38" stop-color="#1d0f9e"/><stop offset="0.8" stop-color="#1d0f9e"/><stop offset="1" stop-color="#120870"/></radialGradient><radialGradient id="gb2" cx="0.5" cy="0.5" r="0.5" fx="0.34" fy="0.3"><stop offset="0" stop-color="#ffffff"/><stop offset="0.08" stop-color="#d8d8f4"/><stop offset="0.38" stop-color="#5a58c2"/><stop offset="0.8" stop-color="#5a58c2"/><stop offset="1" stop-color="#3c3a9a"/></radialGradient><radialGradient id="gb3" cx="0.5" cy="0.5" r="0.5" fx="0.34" fy="0.3"><stop offset="0" stop-color="#ffffff"/><stop offset="0.08" stop-color="#c8c8ee"/><stop offset="0.38" stop-color="#2c2a9c"/><stop offset="0.8" stop-color="#2c2a9c"/><stop offset="1" stop-color="#1a1870"/></radialGradient><radialGradient id="gr1" cx="0.5" cy="0.5" r="0.5" fx="0.34" fy="0.3"><stop offset="0" stop-color="#ffffff"/><stop offset="0.08" stop-color="#ecc8d6"/><stop offset="0.38" stop-color="#a8184e"/><stop offset="0.8" stop-color="#a8184e"/><stop offset="1" stop-color="#7c0f38"/></radialGradient><radialGradient id="gr2" cx="0.5" cy="0.5" r="0.5" fx="0.34" fy="0.3"><stop offset="0" stop-color="#ffffff"/><stop offset="0.08" stop-color="#f0d4e6"/><stop offset="0.38" stop-color="#b2528c"/><stop offset="0.8" stop-color="#b2528c"/><stop offset="1" stop-color="#8c3a6c"/></radialGradient><radialGradient id="gr3" cx="0.5" cy="0.5" r="0.5" fx="0.34" fy="0.3"><stop offset="0" stop-color="#ffffff"/><stop offset="0.08" stop-color="#ecc8d6"/><stop offset="0.38" stop-color="#9c2456"/><stop offset="0.8" stop-color="#9c2456"/><stop offset="1" stop-color="#74163c"/></radialGradient></defs>
<path d="M310.11,491.11 L334.99,494.39" stroke="#2a22a0" stroke-width="1.5"/>
<path d="M309.47,561.62 L335.93,576.38" stroke="#a0204e" stroke-width="1.5"/>
<path d="M354.88,495.07 L379.52,493.53" stroke="#2a22a0" stroke-width="1.5"/>
<path d="M351.97,573.56 L382.83,537.94" stroke="#a0204e" stroke-width="1.5"/>
<circle cx="300.2" cy="489.8" r="6.9" fill="url(#gb1)"/>
<circle cx="344.9" cy="495.7" r="6.9" fill="url(#gb2)"/>
<circle cx="389.5" cy="492.9" r="6.9" fill="url(#gb3)"/>
<circle cx="300.3" cy="556.5" r="6.9" fill="url(#gr1)"/>
<circle cx="345.1" cy="581.5" r="6.9" fill="url(#gr2)"/>
<circle cx="389.7" cy="530" r="6.9" fill="url(#gr3)"/>
<path d="M278,436.3 H412.1 M278,616.6 H412.1" stroke="#555" stroke-width="0.9"/>
<path d="M278,436.3 V616.6" stroke="#a9a6e2" stroke-width="1.1"/>
<path d="M412.1,436.3 V616.9" stroke="#a3295a" stroke-width="1.1"/>
<path d="M274.7,436.2 H278 M274.7,526.2 H278 M274.7,616.2 H278 M276,481.2 H278 M276,571.2 H278" stroke="#a9a6e2" stroke-width="1"/>
<path d="M409.1,436.2 H412.1 M409.1,466.25 H412.1 M409.1,496.3 H412.1 M409.1,526.35 H412.1 M409.1,556.4 H412.1 M409.1,586.45 H412.1 M409.1,616.5 H412.1" stroke="#a3295a" stroke-width="1"/>
<path d="M300.3,616.6 V619.8 M344.9,616.6 V619.8 M389.5,616.6 V619.8" stroke="#555" stroke-width="0.9"/>
<text x="273" y="439.7" font-size="10.6" fill="#2b2b9c" text-anchor="end" textLength="15.77" lengthAdjust="spacingAndGlyphs" >3.6</text>
<text x="273" y="529.7" font-size="10.6" fill="#2b2b9c" text-anchor="end" textLength="15.77" lengthAdjust="spacingAndGlyphs" >3.4</text>
<text x="273" y="619.7" font-size="10.6" fill="#2b2b9c" text-anchor="end" textLength="15.77" lengthAdjust="spacingAndGlyphs" >3.2</text>
<text x="415.4" y="439.3" font-size="10.6" fill="#a3295a" text-anchor="start" textLength="22.07" lengthAdjust="spacingAndGlyphs" >21.5</text>
<text x="415.4" y="469.35" font-size="10.6" fill="#a3295a" text-anchor="start" textLength="22.07" lengthAdjust="spacingAndGlyphs" >21.0</text>
<text x="415.4" y="499.4" font-size="10.6" fill="#a3295a" text-anchor="start" textLength="22.07" lengthAdjust="spacingAndGlyphs" >20.5</text>
<text x="415.4" y="529.45" font-size="10.6" fill="#a3295a" text-anchor="start" textLength="22.07" lengthAdjust="spacingAndGlyphs" >20.0</text>
<text x="415.4" y="559.5" font-size="10.6" fill="#a3295a" text-anchor="start" textLength="22.07" lengthAdjust="spacingAndGlyphs" >19.5</text>
<text x="415.4" y="589.55" font-size="10.6" fill="#a3295a" text-anchor="start" textLength="22.07" lengthAdjust="spacingAndGlyphs" >19.0</text>
<text x="415.4" y="619.6" font-size="10.6" fill="#a3295a" text-anchor="start" textLength="22.07" lengthAdjust="spacingAndGlyphs" >18.5</text>
<text x="223" y="442.3" font-size="15.5" fill="#111" text-anchor="start" >f</text>
<text transform="translate(318.5,626.2) rotate(-30)" font-size="11.3" fill="#1a1a1a" text-anchor="end" textLength="38.43" lengthAdjust="spacingAndGlyphs">Pristine</text>
<text transform="translate(363.1,626.2) rotate(-30)" font-size="11.3" fill="#1a1a1a" text-anchor="end" textLength="43.58" lengthAdjust="spacingAndGlyphs">E-doped</text>
<text transform="translate(407.7,626.2) rotate(-30)" font-size="11.3" fill="#1a1a1a" text-anchor="end" textLength="60.88" lengthAdjust="spacingAndGlyphs">Light-doped</text>
<text transform="translate(241.2,554.06) rotate(-90)" x="0" y="0" font-size="12.5" fill="#2b2b9c" textLength="7.5" lengthAdjust="spacingAndGlyphs"  font-style="italic">d</text>
<text transform="translate(247.2,546.19) rotate(-90)" x="0" y="0" font-size="9.5" fill="#2b2b9c" textLength="22.29" lengthAdjust="spacingAndGlyphs" >(010)</text>
<text transform="translate(243.3,519.16) rotate(-90)" x="0" y="0" font-size="15" fill="#2b2b9c" textLength="20.73" lengthAdjust="spacingAndGlyphs" >(Å)</text>
<text transform="translate(456.5,554.06) rotate(-90)" x="0" y="0" font-size="12.5" fill="#a3295a" textLength="7.5" lengthAdjust="spacingAndGlyphs"  font-style="italic">d</text>
<text transform="translate(462.5,546.19) rotate(-90)" x="0" y="0" font-size="9.5" fill="#a3295a" textLength="22.29" lengthAdjust="spacingAndGlyphs" >(100)</text>
<text transform="translate(458.6,519.16) rotate(-90)" x="0" y="0" font-size="15" fill="#a3295a" textLength="20.73" lengthAdjust="spacingAndGlyphs" >(Å)</text>
<path d="M499.3,247.5 H502.3 M499.3,298.7 H502.3 M499.3,349.9 H502.3 M499.3,371.7 H502.3 M499.3,423.2 H502.3 M499.3,473.9 H502.3 M499.3,504.7 H502.3 M499.3,556 H502.3 M499.3,606.5 H502.3 M572.4,622.3 V619.7 M625.2,622.3 V619.7 M656.09,622.3 V619.7 M593.9,622.3 V620.5" stroke="#a0a0a0" stroke-width="0.9"/>
<path d="M538.5,231.8 V615.5 M669.6,231.8 V615.5" stroke="#111" stroke-width="1" stroke-dasharray="3.2,2.2"/>
<path d="M502.3,267.9 C503.08,268.58 505.23,270.63 507,272 C508.77,273.37 511,275.57 512.9,276.1 C514.8,276.63 516.38,276.88 518.4,275.2 C520.42,273.52 522.82,269.7 525,266 C527.18,262.3 529.75,256.42 531.5,253 C533.25,249.58 534.35,247.2 535.5,245.5 C536.65,243.8 537.4,242.88 538.4,242.8 C539.4,242.72 540.48,243.63 541.5,245 C542.52,246.37 542.88,246.88 544.5,251 C546.12,255.12 549.28,264.53 551.2,269.7 C553.12,274.87 554.18,277.75 556,282 C557.82,286.25 560.27,291.37 562.1,295.2 C563.93,299.03 565.17,302.1 567,305 C568.83,307.9 570.87,311.03 573.1,312.6 C575.33,314.17 578.42,314.83 580.4,314.4 C582.38,313.97 583.57,311.73 585,310 C586.43,308.27 587.77,305.3 589,304 C590.23,302.7 591.23,301.53 592.4,302.2 C593.57,302.87 594.73,305.7 596,308 C597.27,310.3 598.48,313.57 600,316 C601.52,318.43 603.43,320.77 605.1,322.6 C606.77,324.43 608.17,325.63 610,327 C611.83,328.37 614,329.85 616.1,330.8 C618.2,331.75 620.62,331.67 622.6,332.7 C624.58,333.73 625.92,335.28 628,337 C630.08,338.72 632.77,342.5 635.1,343 C637.43,343.5 639.47,341.25 642,340 C644.53,338.75 647.63,336.17 650.3,335.5 C652.97,334.83 654.98,335.83 658,336 C661.02,336.17 665.9,335.5 668.4,336.5 C670.9,337.5 671.4,339.75 673,342 C674.6,344.25 677.17,348.67 678,350" stroke="#b0245a" stroke-width="1.3" fill="none" stroke-linejoin="round"/>
<path d="M501.9,391.1 C503.25,392.25 507.45,395.93 510,398 C512.55,400.07 514.62,403.37 517.2,403.5 C519.78,403.63 523.03,401.88 525.5,398.8 C527.97,395.72 530.25,388.88 532,385 C533.75,381.12 534.77,377.8 536,375.5 C537.23,373.2 538.27,371.45 539.4,371.2 C540.53,370.95 541.62,372.37 542.8,374 C543.98,375.63 544.75,376.4 546.5,381 C548.25,385.6 551.05,395.43 553.3,401.6 C555.55,407.77 557.7,412.68 560,418 C562.3,423.32 565.1,430 567.1,433.5 C569.1,437 570.15,437.38 572,439 C573.85,440.62 576.23,442.97 578.2,443.2 C580.17,443.43 581.83,442.27 583.8,440.4 C585.77,438.53 588.15,434.07 590,432 C591.85,429.93 593.23,427.83 594.9,428 C596.57,428.17 597.7,429.53 600,433 C602.3,436.47 605.4,444.7 608.7,448.8 C612,452.9 616.75,455.4 619.8,457.6 C622.85,459.8 624.68,460.23 627,462 C629.32,463.77 631.2,467.03 633.7,468.2 C636.2,469.37 639.28,469.53 642,469 C644.72,468.47 647.68,466.07 650,465 C652.32,463.93 653.9,462.93 655.9,462.6 C657.9,462.27 659.92,462.53 662,463 C664.08,463.47 666.57,464.57 668.4,465.4 C670.23,466.23 671.4,466.62 673,468 C674.6,469.38 677.17,472.75 678,473.7" stroke="#b0245a" stroke-width="1.3" fill="none" stroke-linejoin="round"/>
<path d="M501.9,535.2 C502.92,535.83 505.92,537.85 508,539 C510.08,540.15 511.95,542.5 514.4,542.1 C516.85,541.7 520.1,539.95 522.7,536.6 C525.3,533.25 528.03,526.18 530,522 C531.97,517.82 533.17,514.03 534.5,511.5 C535.83,508.97 536.83,507.13 538,506.8 C539.17,506.47 540.25,507.55 541.5,509.5 C542.75,511.45 543.53,513.53 545.5,518.5 C547.47,523.47 550.72,532.72 553.3,539.3 C555.88,545.88 558.23,551.75 561,558 C563.77,564.25 567.03,573.43 569.9,576.8 C572.77,580.17 575.68,579 578.2,578.2 C580.72,577.4 582.78,574.32 585,572 C587.22,569.68 589.33,564.3 591.5,564.3 C593.67,564.3 595.13,568.3 598,572 C600.87,575.7 604.6,583.17 608.7,586.5 C612.8,589.83 618.43,589.32 622.6,592 C626.77,594.68 630.47,601.27 633.7,602.6 C636.93,603.93 639.23,600.83 642,600 C644.77,599.17 647.3,598.1 650.3,597.6 C653.3,597.1 657.22,596.77 660,597 C662.78,597.23 665,598.33 667,599 C669,599.67 670.17,599.85 672,601 C673.83,602.15 677,605.08 678,605.9" stroke="#b0245a" stroke-width="1.3" fill="none" stroke-linejoin="round"/>
<path d="M501.9,335.44 L504.3,332.93 L506.7,336.01 L509.1,334.34 L511.5,335.07 L513.9,334.45 L516.3,336.01 L518.7,334.47 L521.1,336.55 L523.5,336.5 L525.9,332.93 L528.3,337.19 L530.7,334.77 L533.1,336.19 L535.5,334.83 L537.9,336.97 L540.3,334.8 L542.7,337.34 L545.1,336.39 L547.5,339.61 L549.9,339.6 L552.3,344.4 L554.7,343.27 L557.1,346.07 L559.5,347.22 L561.9,344.45 L564.3,347.77 L566.7,346.73 L569.1,347.36 L571.5,345.61 L573.9,348.59 L576.3,345.62 L578.7,347.96 L581.1,345.3 L583.5,345.82 L585.9,346.93 L588.3,345.45 L590.7,345.14 L593.1,347.22 L595.5,346.22 L597.9,346.76 L600.3,346.05 L602.7,346.56 L605.1,345.47 L607.5,345.83 L609.9,346.87 L612.3,347.12 L614.7,346.36 L617.1,345.25 L619.5,344.5 L621.9,346 L624.3,345.23 L626.7,346.26 L629.1,344.89 L631.5,344.32 L633.9,341.94 L636.3,342.15 L638.7,340.09 L641.1,340.07 L643.5,337.86 L645.9,337.43 L648.3,336.1 L650.7,335.46 L653.1,334.99 L655.5,335.09 L656.3,335.1 L657.1,335.08 L657.9,335.01 L658.7,334.91 L659.5,334.83 L660.3,334.75 L661.1,334.65 L661.9,334.5 L662.7,334.26 L663.5,333.86 L664.3,333.22 L665.1,332.16 L665.9,330.64 L666.7,328.8 L667.5,327 L668.3,325.09 L669.1,322.99 L669.9,321.97 L670.7,322.27 L671.5,323.66 L672.3,326 L673.1,329.37 L673.9,333.19 L674.7,336.9 L675.5,340.59 L676.3,344.18 L677.1,347.17 L677.9,349.68" stroke="#3a3a9c" stroke-width="1.15" fill="none" stroke-linejoin="round"/>
<path d="M501.9,460.64 L504.3,464.54 L506.7,462.25 L509.1,463.94 L511.5,461.48 L513.9,461.07 L516.3,465.36 L518.7,463.14 L521.1,466.16 L523.5,461.77 L525.9,464.62 L528.3,462.99 L530.7,466.68 L533.1,463.06 L535.5,462.43 L537.9,465.01 L540.3,462.59 L542.7,466.09 L545.1,463.66 L547.5,467.71 L549.9,466.82 L552.3,470.6 L554.7,468.84 L557.1,470.52 L559.5,469.92 L561.9,472.15 L564.3,471.02 L566.7,472.21 L569.1,471.26 L571.5,470.94 L573.9,472.78 L576.3,472.55 L578.7,472.7 L581.1,470.81 L583.5,472.65 L585.9,471.66 L588.3,472.29 L590.7,470.65 L593.1,472.56 L595.5,470.97 L597.9,472.29 L600.3,471.48 L602.7,473.21 L605.1,470.94 L607.5,473.29 L609.9,470.79 L612.3,472.62 L614.7,470.94 L617.1,472.47 L619.5,472.71 L621.9,472.92 L624.3,470.72 L626.7,469.97 L629.1,470.39 L631.5,469.1 L633.9,468.56 L636.3,466.97 L638.7,466.84 L641.1,466.74 L643.5,465.2 L645.9,465.02 L648.3,464.5 L650.7,464.62 L653.1,463.77 L655.5,463.42 L656.3,463.3 L657.1,463.22 L657.9,463.14 L658.7,463.07 L659.5,462.99 L660.3,462.89 L661.1,462.74 L661.9,462.51 L662.7,462.17 L663.5,461.63 L664.3,460.83 L665.1,459.68 L665.9,458.18 L666.7,456.56 L667.5,454.98 L668.3,452.99 L669.1,450.96 L669.9,449.59 L670.7,449.35 L671.5,450.02 L672.3,451.51 L673.1,454.1 L673.9,458.09 L674.7,461.85 L675.5,465.14 L676.3,468.26 L677.1,471.01 L677.9,473.4" stroke="#3a3a9c" stroke-width="1.15" fill="none" stroke-linejoin="round"/>
<path d="M501.9,608.09 L504.3,600.3 L506.7,606.04 L509.1,598.32 L511.5,605.5 L513.9,597.85 L516.3,608.87 L518.7,600.74 L521.1,606.43 L523.5,600.24 L525.9,602.02 L528.3,607.55 L530.7,602.08 L533.1,604.85 L535.5,603.58 L537.9,605.64 L540.3,603.69 L542.7,607.7 L545.1,603.22 L547.5,609.2 L549.9,610.07 L552.3,611.36 L554.7,612.56 L557.1,610.72 L559.5,610.83 L561.9,611.78 L564.3,611.02 L566.7,612.45 L569.1,612.07 L571.5,612.32 L573.9,611.45 L576.3,611.79 L578.7,609.95 L581.1,611.56 L583.5,609 L585.9,609.05 L588.3,610.73 L590.7,608.01 L593.1,608.91 L595.5,607.19 L597.9,609.09 L600.3,607.47 L602.7,608.21 L605.1,606.15 L607.5,607.73 L609.9,607.56 L612.3,606 L614.7,606.38 L617.1,605.6 L619.5,606.28 L621.9,604.33 L624.3,605.13 L626.7,603.24 L629.1,603.99 L631.5,602.43 L633.9,603.01 L636.3,602 L638.7,602.15 L641.1,600.91 L643.5,600.69 L645.9,600.79 L648.3,599.96 L650.7,600.12 L653.1,599.57 L655.5,599.41 L656.3,599.34 L657.1,599.26 L657.9,599.17 L658.7,599.05 L659.5,598.91 L660.3,598.78 L661.1,598.65 L661.9,598.49 L662.7,598.24 L663.5,597.84 L664.3,597.24 L665.1,596.32 L665.9,595.1 L666.7,593.74 L667.5,592.5 L668.3,591.32 L669.1,590.14 L669.9,589.52 L670.7,589.67 L671.5,590.37 L672.3,591.6 L673.1,593.68 L673.9,596.77 L674.7,599.64 L675.5,602.09 L676.3,604.43 L677.1,606.65 L677.9,608.74" stroke="#3a3a9c" stroke-width="1.15" fill="none" stroke-linejoin="round"/>
<rect x="502.3" y="231.8" width="175.9" height="390.5" fill="none" stroke="#a0a0a0" stroke-width="1.2"/>
<path d="M564,245.4 H589.3" stroke="#3a3a9c" stroke-width="1.2"/>
<path d="M564,258.5 H589.3" stroke="#b0245a" stroke-width="1.2"/>
<text x="591.68" y="249" font-size="10.8" fill="#1a1a1a" textLength="39.31" lengthAdjust="spacingAndGlyphs" >In plane</text>
<text x="592.18" y="262.2" font-size="10.8" fill="#1a1a1a" textLength="59.7" lengthAdjust="spacingAndGlyphs" >Out of plane</text>
<text x="572.6" y="283.4" font-size="10.2" fill="#1a1a1a" text-anchor="start" >Pristine</text>
<text x="582.3" y="414" font-size="10.2" fill="#1a1a1a" text-anchor="start" >E-doped</text>
<text x="583.1" y="539.3" font-size="10.2" fill="#1a1a1a" text-anchor="start" >Light-doped</text>
<text x="517.56" y="298.4" font-size="11.4" fill="#1a1a1a" textLength="27.68" lengthAdjust="spacingAndGlyphs" >(100)</text>
<text x="638.46" y="314.3" font-size="11.4" fill="#1a1a1a" textLength="27.68" lengthAdjust="spacingAndGlyphs" >(010)</text>
<text x="461.4" y="235.2" font-size="15.5" fill="#111" text-anchor="start" >e</text>
<text x="572.1" y="635.3" font-size="10.6" fill="#1a1a1a" text-anchor="middle" textLength="15.77" lengthAdjust="spacingAndGlyphs" >0.5</text>
<text x="624.9" y="635.3" font-size="10.6" fill="#1a1a1a" text-anchor="middle" textLength="6.31" lengthAdjust="spacingAndGlyphs" >1</text>
<text x="655.79" y="635.3" font-size="10.6" fill="#1a1a1a" text-anchor="middle" textLength="15.77" lengthAdjust="spacingAndGlyphs" >1.5</text>
<text x="678.4" y="635.3" font-size="10.6" fill="#1a1a1a" text-anchor="middle" textLength="6.31" lengthAdjust="spacingAndGlyphs" >2</text>
<text transform="translate(489,441.81) rotate(-90)" x="0" y="0" font-size="13.8" fill="#1a1a1a" textLength="53.14" lengthAdjust="spacingAndGlyphs" >Intensity</text>
<text x="567.6" y="652.4" font-size="14" fill="#1a1a1a">q (Å</text>
<text x="594.6" y="647.0" font-size="10" fill="#1a1a1a">-1</text>
<text x="603.6" y="652.4" font-size="14" fill="#1a1a1a">)</text>
</svg></body></html>
